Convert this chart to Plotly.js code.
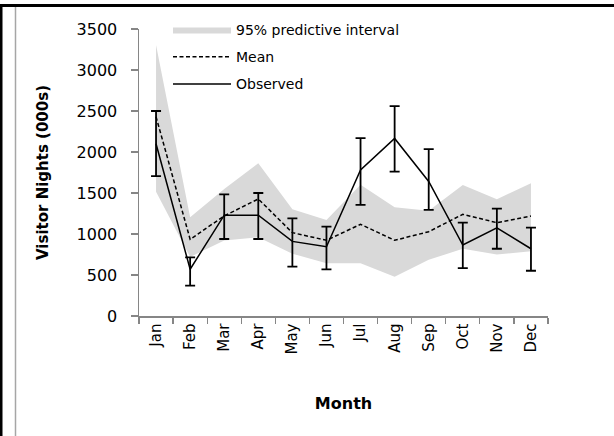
<!DOCTYPE html>
<html>
<head>
<meta charset="utf-8">
<script src="https://cdn.plot.ly/plotly-3.0.1.min.js"></script>
<style>
html,body{margin:0;padding:0;background:#fff;}
#chart{width:614px;height:436px;}
</style>
</head>
<body>
<div id="chart"></div>
<script>
// Data
var months = ["Jan","Feb","Mar","Apr","May","Jun","Jul","Aug","Sep","Oct","Nov","Dec"];
var observed = [2100, 570, 1230, 1230, 910, 845, 1780, 2165, 1640, 866, 1075, 820];
var observedUpper = [2500, 716, 1484, 1500, 1190, 1089, 2170, 2560, 2035, 1138, 1310, 1077];
var observedLower = [1705, 370, 939, 939, 601, 569, 1354, 1760, 1293, 585, 820, 552];
var meanValues = [2430, 935, 1220, 1427, 1016, 923, 1118, 923, 1028, 1240, 1138, 1220];
var bandUpper = [3305, 1204, 1550, 1862, 1301, 1171, 1600, 1326, 1284, 1598, 1425, 1618];
var bandLower = [1516, 720, 920, 960, 760, 642, 642, 480, 685, 820, 750, 790];
var yTicks = [0, 500, 1000, 1500, 2000, 2500, 3000, 3500];

var errPlus = observed.map(function(v, i){ return observedUpper[i] - v; });
var errMinus = observed.map(function(v, i){ return v - observedLower[i]; });

var FONT = "DejaVu Sans, sans-serif";

var traces = [
  {
    x: months, y: bandLower, type: "scatter", mode: "lines",
    line: {width: 0, color: "#d9d9d9"}, showlegend: false, hoverinfo: "skip",
    legendgroup: "band"
  },
  {
    x: months, y: bandUpper, type: "scatter", mode: "lines",
    fill: "tonexty", fillcolor: "#d9d9d9",
    line: {width: 0, color: "#d9d9d9"},
    name: "95% predictive interval", legendgroup: "band"
  },
  {
    x: months, y: meanValues, type: "scatter", mode: "lines",
    line: {color: "#000000", width: 1.5, dash: "4px,2.5px"},
    name: "Mean", legendgroup: "mean"
  },
  {
    x: months, y: observed, type: "scatter", mode: "lines",
    line: {color: "#000000", width: 1.5},
    error_y: {type: "data", symmetric: false, array: errPlus, arrayminus: errMinus,
              color: "#000000", thickness: 1.8, width: 5},
    name: "Observed", legendgroup: "obs"
  }
];

var L = 139, R = 66, T = 29, B = 120;
var W = 614, H = 436;
var pw = W - L - R, ph = H - T - B;
function px2x(px){ return (px - L) / pw; }
function py2y(py){ return 1 - (py - T) / ph; }

var layout = {
  width: W, height: H,
  margin: {l: L, r: R, t: T, b: B, pad: 0},
  paper_bgcolor: "#ffffff", plot_bgcolor: "rgba(0,0,0,0)",
  font: {family: FONT, size: 15, color: "#000000"},
  showlegend: true,
  legend: {
    x: px2x(168), y: py2y(14), xanchor: "left", yanchor: "top",
    bgcolor: "rgba(0,0,0,0)", borderwidth: 0,
    font: {family: FONT, size: 14, color: "#000000"},
    traceorder: "grouped", tracegroupgap: 6, itemwidth: 58
  },
  xaxis: {
    type: "category", categoryarray: months, range: [-0.5, 11.5],
    tickson: "boundaries", ticks: "outside", ticklen: 6, tickwidth: 1.2, tickcolor: "#868686",
    showline: true, linecolor: "#868686", linewidth: 1.5,
    showgrid: false, zeroline: false, tickangle: -90,
    tickfont: {family: FONT, size: 15, color: "#000000"},
    title: {text: "Month", font: {family: FONT, size: 16, color: "#000000", weight: "bold"}, standoff: 44},
    automargin: false, fixedrange: true
  },
  yaxis: {
    range: [0, 3500], tickmode: "array", tickvals: yTicks, ticktext: yTicks.map(String),
    ticks: "outside", ticklen: 7, tickwidth: 1.2, tickcolor: "#868686",
    showline: true, linecolor: "#868686", linewidth: 1.5,
    showgrid: false, zeroline: false,
    ticklabelstandoff: 10,
    tickfont: {family: FONT, size: 16, color: "#000000"},
    title: {text: "Visitor Nights (000s)", font: {family: FONT, size: 15, color: "#000000", weight: "bold"}, standoff: 24},
    automargin: false, fixedrange: true
  },
  shapes: [
    {type: "line", xref: "paper", yref: "paper", x0: px2x(-5), x1: px2x(620), y0: py2y(5.5), y1: py2y(5.5),
     line: {color: "#000000", width: 3}},
    {type: "line", xref: "paper", yref: "paper", x0: px2x(1), x1: px2x(1), y0: py2y(4), y1: py2y(445),
     line: {color: "#000000", width: 3}},
    {type: "line", xref: "paper", yref: "paper", x0: px2x(15.5), x1: px2x(15.5), y0: py2y(7), y1: py2y(445),
     line: {color: "#a6a6a6", width: 1.5}}
  ]
};

Plotly.newPlot("chart", traces, layout, {displayModeBar: false, staticPlot: true});
</script>
</body>
</html>
